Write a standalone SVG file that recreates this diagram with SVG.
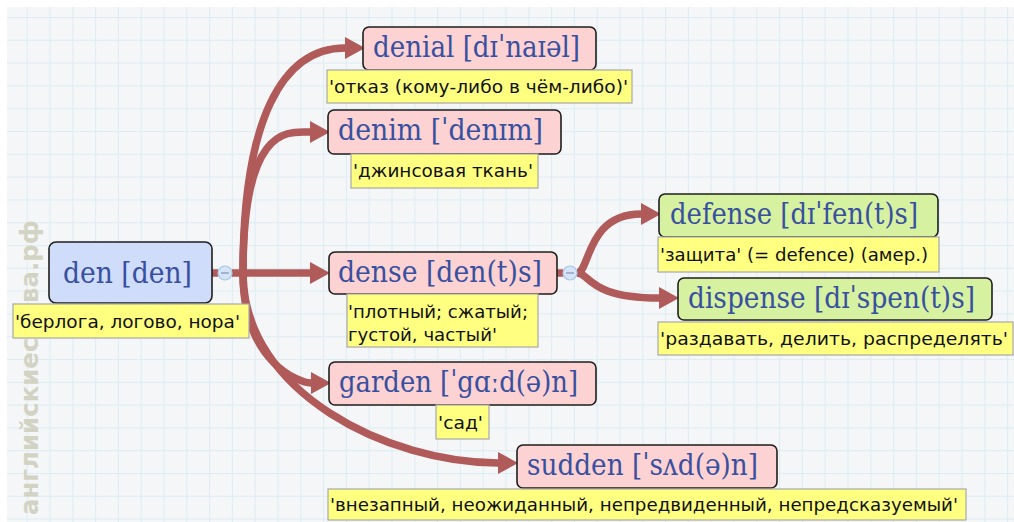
<svg xmlns="http://www.w3.org/2000/svg" width="1014" height="522" viewBox="0 0 1014 522">
<style>
.node{stroke:#1e1e1e;stroke-width:1.6}
.pink{fill:#fdd2d2}
.blue{fill:#cfdcfa}
.green{fill:#d6f1a0}
.lbl{fill:#ffff80;stroke:#a8a8a8;stroke-width:1.2}
.nt{font-family:"DejaVu Serif","Liberation Serif",serif;font-size:29px;fill:#3850a0}
.lt{font-family:"DejaVu Sans","Liberation Sans",sans-serif;font-size:17px;fill:#111}
.conn{fill:none;stroke:#b05a5a;stroke-width:7.5}
.tog{fill:#d6e4f7;stroke:#a9c3e6;stroke-width:1.2}
.togm{stroke:#7f95b8;stroke-width:1.2}
</style>
<defs>
<pattern id="grid" patternUnits="userSpaceOnUse" x="26.7" y="17" width="22.8" height="22.8">
<path d="M0 0H22.8M0 0V22.8" fill="none" stroke="#dcedf3" stroke-width="2"/>
</pattern>
<marker id="arr" markerUnits="userSpaceOnUse" markerWidth="20" markerHeight="22" refX="0" refY="11" orient="auto">
<path d="M0 0L20 11L0 22z" fill="#b05a5a"/>
</marker>
</defs>
<rect x="0" y="0" width="1014" height="522" fill="#ffffff"/>
<rect x="7" y="7" width="1007" height="515" fill="#f4f6f8"/>
<rect x="7" y="7" width="1007" height="515" fill="url(#grid)"/>
<text transform="translate(37.5,515) rotate(-90)" textLength="295" lengthAdjust="spacingAndGlyphs" font-family="DejaVu Sans,Liberation Sans,sans-serif" font-weight="bold" font-size="25" fill="#d3d3c3">английскиеслова.рф</text>

<g id="connectors">
<path class="conn" d="M212 273H218"/>
<path class="conn" d="M232 273H310" marker-end="url(#arr)"/>
<path class="conn" d="M243 273C243 120 282 48 345 48" marker-end="url(#arr)"/>
<path class="conn" d="M243 273C243 123 289 132 310 132" marker-end="url(#arr)"/>
<path class="conn" d="M243 273C243 363 300 383 311 383" marker-end="url(#arr)"/>
<path class="conn" d="M243 273C243 393 389 463 498 463" marker-end="url(#arr)"/>
<path class="conn" d="M557 273H563"/>
<path class="conn" d="M577 273C590 273 586 214 641 214" marker-end="url(#arr)"/>
<path class="conn" d="M577 273C590 273 588 298 659 298" marker-end="url(#arr)"/>
<circle class="tog" cx="225" cy="273" r="7"/>
<path class="togm" d="M221 273H229"/>
<circle class="tog" cx="570" cy="273" r="7"/>
<path class="togm" d="M566 273H574"/>
</g>

<g id="node-den">
<rect class="node blue" x="49" y="242" width="163" height="61" rx="7"/>
<text class="nt" x="63" y="283" textLength="129" lengthAdjust="spacingAndGlyphs">den [den]</text>
<rect class="lbl" x="13" y="304" width="236" height="34"/>
<text class="lt" x="15" y="328" textLength="225" lengthAdjust="spacingAndGlyphs">'берлога, логово, нора'</text>
</g>

<g id="node-denial">
<rect class="node pink" x="363" y="27" width="233" height="43" rx="6"/>
<text class="nt" x="373" y="57" textLength="207" lengthAdjust="spacingAndGlyphs">denial [dɪˈnaɪəl]</text>
<rect class="lbl" x="327" y="70" width="305" height="33"/>
<text class="lt" x="329" y="93" textLength="299" lengthAdjust="spacingAndGlyphs">'отказ (кому-либо в чём-либо)'</text>
</g>

<g id="node-denim">
<rect class="node pink" x="328" y="110" width="233" height="44" rx="6"/>
<text class="nt" x="338" y="140" textLength="205" lengthAdjust="spacingAndGlyphs">denim [ˈdenɪm]</text>
<rect class="lbl" x="351" y="154" width="187" height="34"/>
<text class="lt" x="353" y="177" textLength="180" lengthAdjust="spacingAndGlyphs">'джинсовая ткань'</text>
</g>

<g id="node-dense">
<rect class="node pink" x="329" y="252" width="228" height="42" rx="6"/>
<text class="nt" x="338" y="282" textLength="204" lengthAdjust="spacingAndGlyphs">dense [den(t)s]</text>
<rect class="lbl" x="347" y="294" width="191" height="53"/>
<text class="lt" x="348" y="318" textLength="180" lengthAdjust="spacingAndGlyphs">'плотный; сжатый;</text>
<text class="lt" x="348" y="341" textLength="149" lengthAdjust="spacingAndGlyphs">густой, частый'</text>
</g>

<g id="node-defense">
<rect class="node green" x="659" y="194" width="279" height="43" rx="6"/>
<text class="nt" x="670" y="224" textLength="248" lengthAdjust="spacingAndGlyphs">defense [dɪˈfen(t)s]</text>
<rect class="lbl" x="658" y="237" width="281" height="35"/>
<text class="lt" x="660" y="261" textLength="268" lengthAdjust="spacingAndGlyphs">'защита' (= defence) (амер.)</text>
</g>

<g id="node-dispense">
<rect class="node green" x="678" y="278" width="314" height="42" rx="6"/>
<text class="nt" x="688" y="308" textLength="287" lengthAdjust="spacingAndGlyphs">dispense [dɪˈspen(t)s]</text>
<rect class="lbl" x="658" y="322" width="355" height="33"/>
<text class="lt" x="660" y="345" textLength="348" lengthAdjust="spacingAndGlyphs">'раздавать, делить, распределять'</text>
</g>

<g id="node-garden">
<rect class="node pink" x="329" y="362" width="267" height="43" rx="6"/>
<text class="nt" x="339" y="392" textLength="239" lengthAdjust="spacingAndGlyphs">garden [ˈgɑːd(ə)n]</text>
<rect class="lbl" x="436" y="405" width="53" height="34"/>
<text class="lt" x="438" y="429" textLength="45" lengthAdjust="spacingAndGlyphs">'сад'</text>
</g>

<g id="node-sudden">
<rect class="node pink" x="517" y="445" width="260" height="43" rx="6"/>
<text class="nt" x="527" y="475" textLength="231" lengthAdjust="spacingAndGlyphs">sudden [ˈsʌd(ə)n]</text>
<rect class="lbl" x="328" y="489" width="638" height="31"/>
<text class="lt" x="330" y="511" textLength="628" lengthAdjust="spacingAndGlyphs">'внезапный, неожиданный, непредвиденный, непредсказуемый'</text>
</g>
</svg>
